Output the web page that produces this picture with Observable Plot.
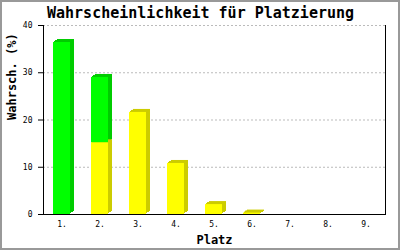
<!DOCTYPE html>
<html><head><meta charset="utf-8">
<script src="https://cdn.jsdelivr.net/npm/d3@7"></script>
<script src="https://cdn.jsdelivr.net/npm/@observablehq/plot@0.6"></script>
<style>
body{margin:0;background:#fff}
#chart svg{outline:2px solid #999;outline-offset:-2px;display:block}
</style>
</head><body><div id="chart"></div>
<script>
const places = ["1.","2.","3.","4.","5.","6.","7.","8.","9."];
const greenValues = [36.4, 13.8, 0, 0, 0, 0, 0, 0, 0];
const yellowValues = [0, 15.2, 21.6, 10.8, 2.1, 0.3, 0, 0, 0];
const yTicks = [0, 10, 20, 30, 40];
const gridTicks = [10, 20, 30, 40];
const title = "Wahrscheinlichkeit für Platzierung";
const xLabel = "Platz";
const yLabel = "Wahrsch. (%)";

const segs = [];
places.forEach((p, i) => {
  const yv = yellowValues[i], gv = greenValues[i];
  if (yv > 0) segs.push({place: p, y1: 0, y2: yv, front: "#ffff00", side: "#cccc00"});
  if (gv > 0) segs.push({place: p, y1: yv, y2: yv + gv, front: "#00ff00", side: "#00cc00"});
});

const depth = [[1,-1],[2,-2],[3,-2],[4,-3]];
const backMarks = depth.map(([dx, dy]) =>
  Plot.barY(segs, {x: "place", y1: "y1", y2: "y2", fill: "side", dx, dy, insetLeft: 0, insetRight: 0})
);

const chart = Plot.plot({
  width: 400, height: 250,
  marginLeft: 43, marginRight: 15, marginTop: 25, marginBottom: 36,
  style: {fontFamily: "DejaVu Sans Mono", background: "#fff"},
  x: {domain: places, paddingInner: 0.55, paddingOuter: 0.275},
  y: {domain: [0, 40]},
  marks: [
    Plot.ruleY(gridTicks, {stroke: "#bbb", strokeDasharray: "2,2"}),
    ...backMarks,
    Plot.barY(segs, {x: "place", y1: "y1", y2: "y2", fill: "front", insetLeft: 0, insetRight: 0}),
    Plot.frame({anchor: "left", stroke: "#000"}),
    Plot.frame({anchor: "right", stroke: "#000"}),
    Plot.frame({anchor: "bottom", stroke: "#000"}),
    Plot.axisY({ticks: yTicks, tickSize: 5, tickPadding: 6, fontSize: 8, label: null, stroke: "#000"}),
    Plot.axisX({tickSize: 0, tickPadding: 7, fontSize: 8, label: null}),
    Plot.text([title], {frameAnchor: "top", lineAnchor: "middle", dy: -12, dx: -14, fontSize: 15, fontWeight: "bold", fill: "#000"}),
    Plot.text([xLabel], {frameAnchor: "bottom", lineAnchor: "middle", dy: 26, fontSize: 12, fontWeight: "bold", fill: "#000"}),
    Plot.text([yLabel], {frameAnchor: "left", dx: -31, rotate: -90, fontSize: 12, fontWeight: "bold", fill: "#000"})
  ]
});
document.getElementById("chart").append(chart);
</script>
</body></html>
